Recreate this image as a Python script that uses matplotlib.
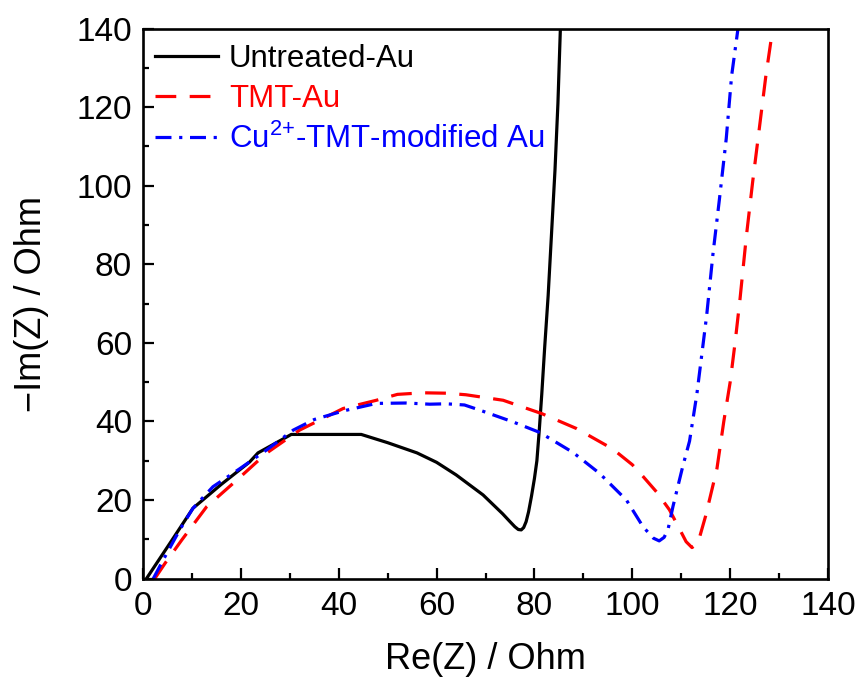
import matplotlib
matplotlib.use("Agg")
import matplotlib.pyplot as plt
from matplotlib.ticker import MultipleLocator

plt.rcParams['font.family'] = ['Liberation Sans', 'DejaVu Sans']
plt.rcParams['mathtext.fontset'] = 'custom'
plt.rcParams['mathtext.rm'] = 'Liberation Sans'

# Nyquist data: Re(Z) and -Im(Z) in Ohm
untreated_re = [0.7, 5.5, 10.2, 16.0, 21.8, 23.5, 30.3, 44.6, 50.0, 56.0, 60.0, 64.0,
                69.5, 73.5, 75.0, 76.0, 76.7, 77.3, 77.8, 78.3, 78.8, 79.4, 80.0,
                80.5, 81.0, 81.5, 82.1, 82.8, 83.5, 84.2, 84.8, 85.3]
untreated_im = [0.0, 9.0, 17.9, 24.0, 29.7, 32.0, 36.7, 36.7, 34.6, 32.0, 29.6, 26.4,
                21.3, 16.5, 14.5, 13.2, 12.5, 12.4, 13.0, 14.5, 17.0, 21.0, 25.5,
                30.0, 38.0, 47.0, 59.0, 72.0, 88.0, 104.0, 121.0, 140.0]

tmt_re = [2.4, 4.5, 7.9, 13.0, 19.1, 25.2, 32.0, 40.9, 47.7, 52.0, 57.2, 62.0, 66.0,
          73.6, 81.5, 88.6, 96.0, 100.0, 102.2, 105.0, 107.6, 109.5, 111.0, 112.2,
          113.4, 115.0, 117.3, 118.7, 120.0, 121.0, 122.0, 123.3, 124.6, 126.0,
          127.3, 128.7]
tmt_im = [0.0, 3.9, 9.8, 18.3, 25.0, 31.9, 37.8, 43.3, 45.4, 46.9, 47.3, 47.2, 46.8,
          45.4, 42.0, 38.2, 33.0, 29.0, 26.0, 22.0, 17.5, 13.0, 9.4, 7.9,
          9.0, 16.0, 28.0, 40.0, 50.0, 60.0, 71.0, 87.0, 101.0, 115.0,
          128.0, 140.0]

cu_re = [2.1, 4.1, 7.5, 10.2, 14.3, 19.8, 25.2, 30.7, 35.0, 41.0, 47.7, 53.8, 58.6,
         62.0, 65.7, 68.8, 75.6, 81.1, 87.9, 93.3, 98.8, 102.2, 104.3, 105.5, 106.5,
         107.3, 108.3, 110.3, 111.7, 113.2, 114.5, 115.2, 116.5, 117.8, 119.2,
         120.3, 121.6]
cu_im = [0.0, 4.7, 12.4, 17.9, 23.4, 28.0, 32.7, 37.8, 40.5, 42.7, 44.6, 44.7, 44.4,
         44.5, 44.2, 42.9, 39.9, 37.2, 32.1, 26.8, 20.0, 13.2, 10.3, 9.6, 10.5,
         12.5, 18.3, 28.5, 35.0, 47.0, 60.0, 67.0, 82.8, 96.5, 112.0,
         128.0, 140.0]

labels = ['Untreated-Au', 'TMT-Au', r'Cu$\mathregular{^{2{+}}}$-TMT-modified Au']
colors = ['#000000', '#ff0000', '#0000ff']

fig = plt.figure(figsize=(8.6, 6.82), dpi=100)
ax = fig.add_axes([0.1663, 0.1516, 0.7965, 0.8064])

ax.plot(untreated_re, untreated_im, color=colors[0], lw=2.3, label=labels[0])
ax.plot(tmt_re, tmt_im, color=colors[1], lw=2.3, dashes=(6.5, 4.2), label=labels[1])
ax.plot(cu_re, cu_im, color=colors[2], lw=2.3, dashes=(5, 2.4, 1, 2.4), label=labels[2])

ax.set_xlim(0, 140)
ax.set_ylim(0, 140)
ax.xaxis.set_major_locator(MultipleLocator(20))
ax.xaxis.set_minor_locator(MultipleLocator(10))
ax.yaxis.set_major_locator(MultipleLocator(20))
ax.yaxis.set_minor_locator(MultipleLocator(10))
ax.tick_params(which='both', direction='in', width=1.6, labelsize=24,
               top=False, right=False)
ax.tick_params(which='major', length=8)
ax.tick_params(which='minor', length=4)
ax.tick_params(axis='x', which='major', pad=9)
ax.tick_params(axis='y', which='major', pad=8)
for sp in ax.spines.values():
    sp.set_linewidth(1.9)

ax.set_xlabel('Re(Z) / Ohm', fontsize=26, labelpad=14)
ax.set_ylabel('\u2212Im(Z) / Ohm', fontsize=26, labelpad=20)

leg = ax.legend(loc='upper left', frameon=False, fontsize=22.5,
                handlelength=2.0, handletextpad=0.35, labelspacing=0.32,
                borderaxespad=0.0, borderpad=0.0,
                bbox_to_anchor=(0.018, 0.972))
for txt, c in zip(leg.get_texts(), colors):
    txt.set_color(c)

fig.savefig('out.png', dpi=100)
